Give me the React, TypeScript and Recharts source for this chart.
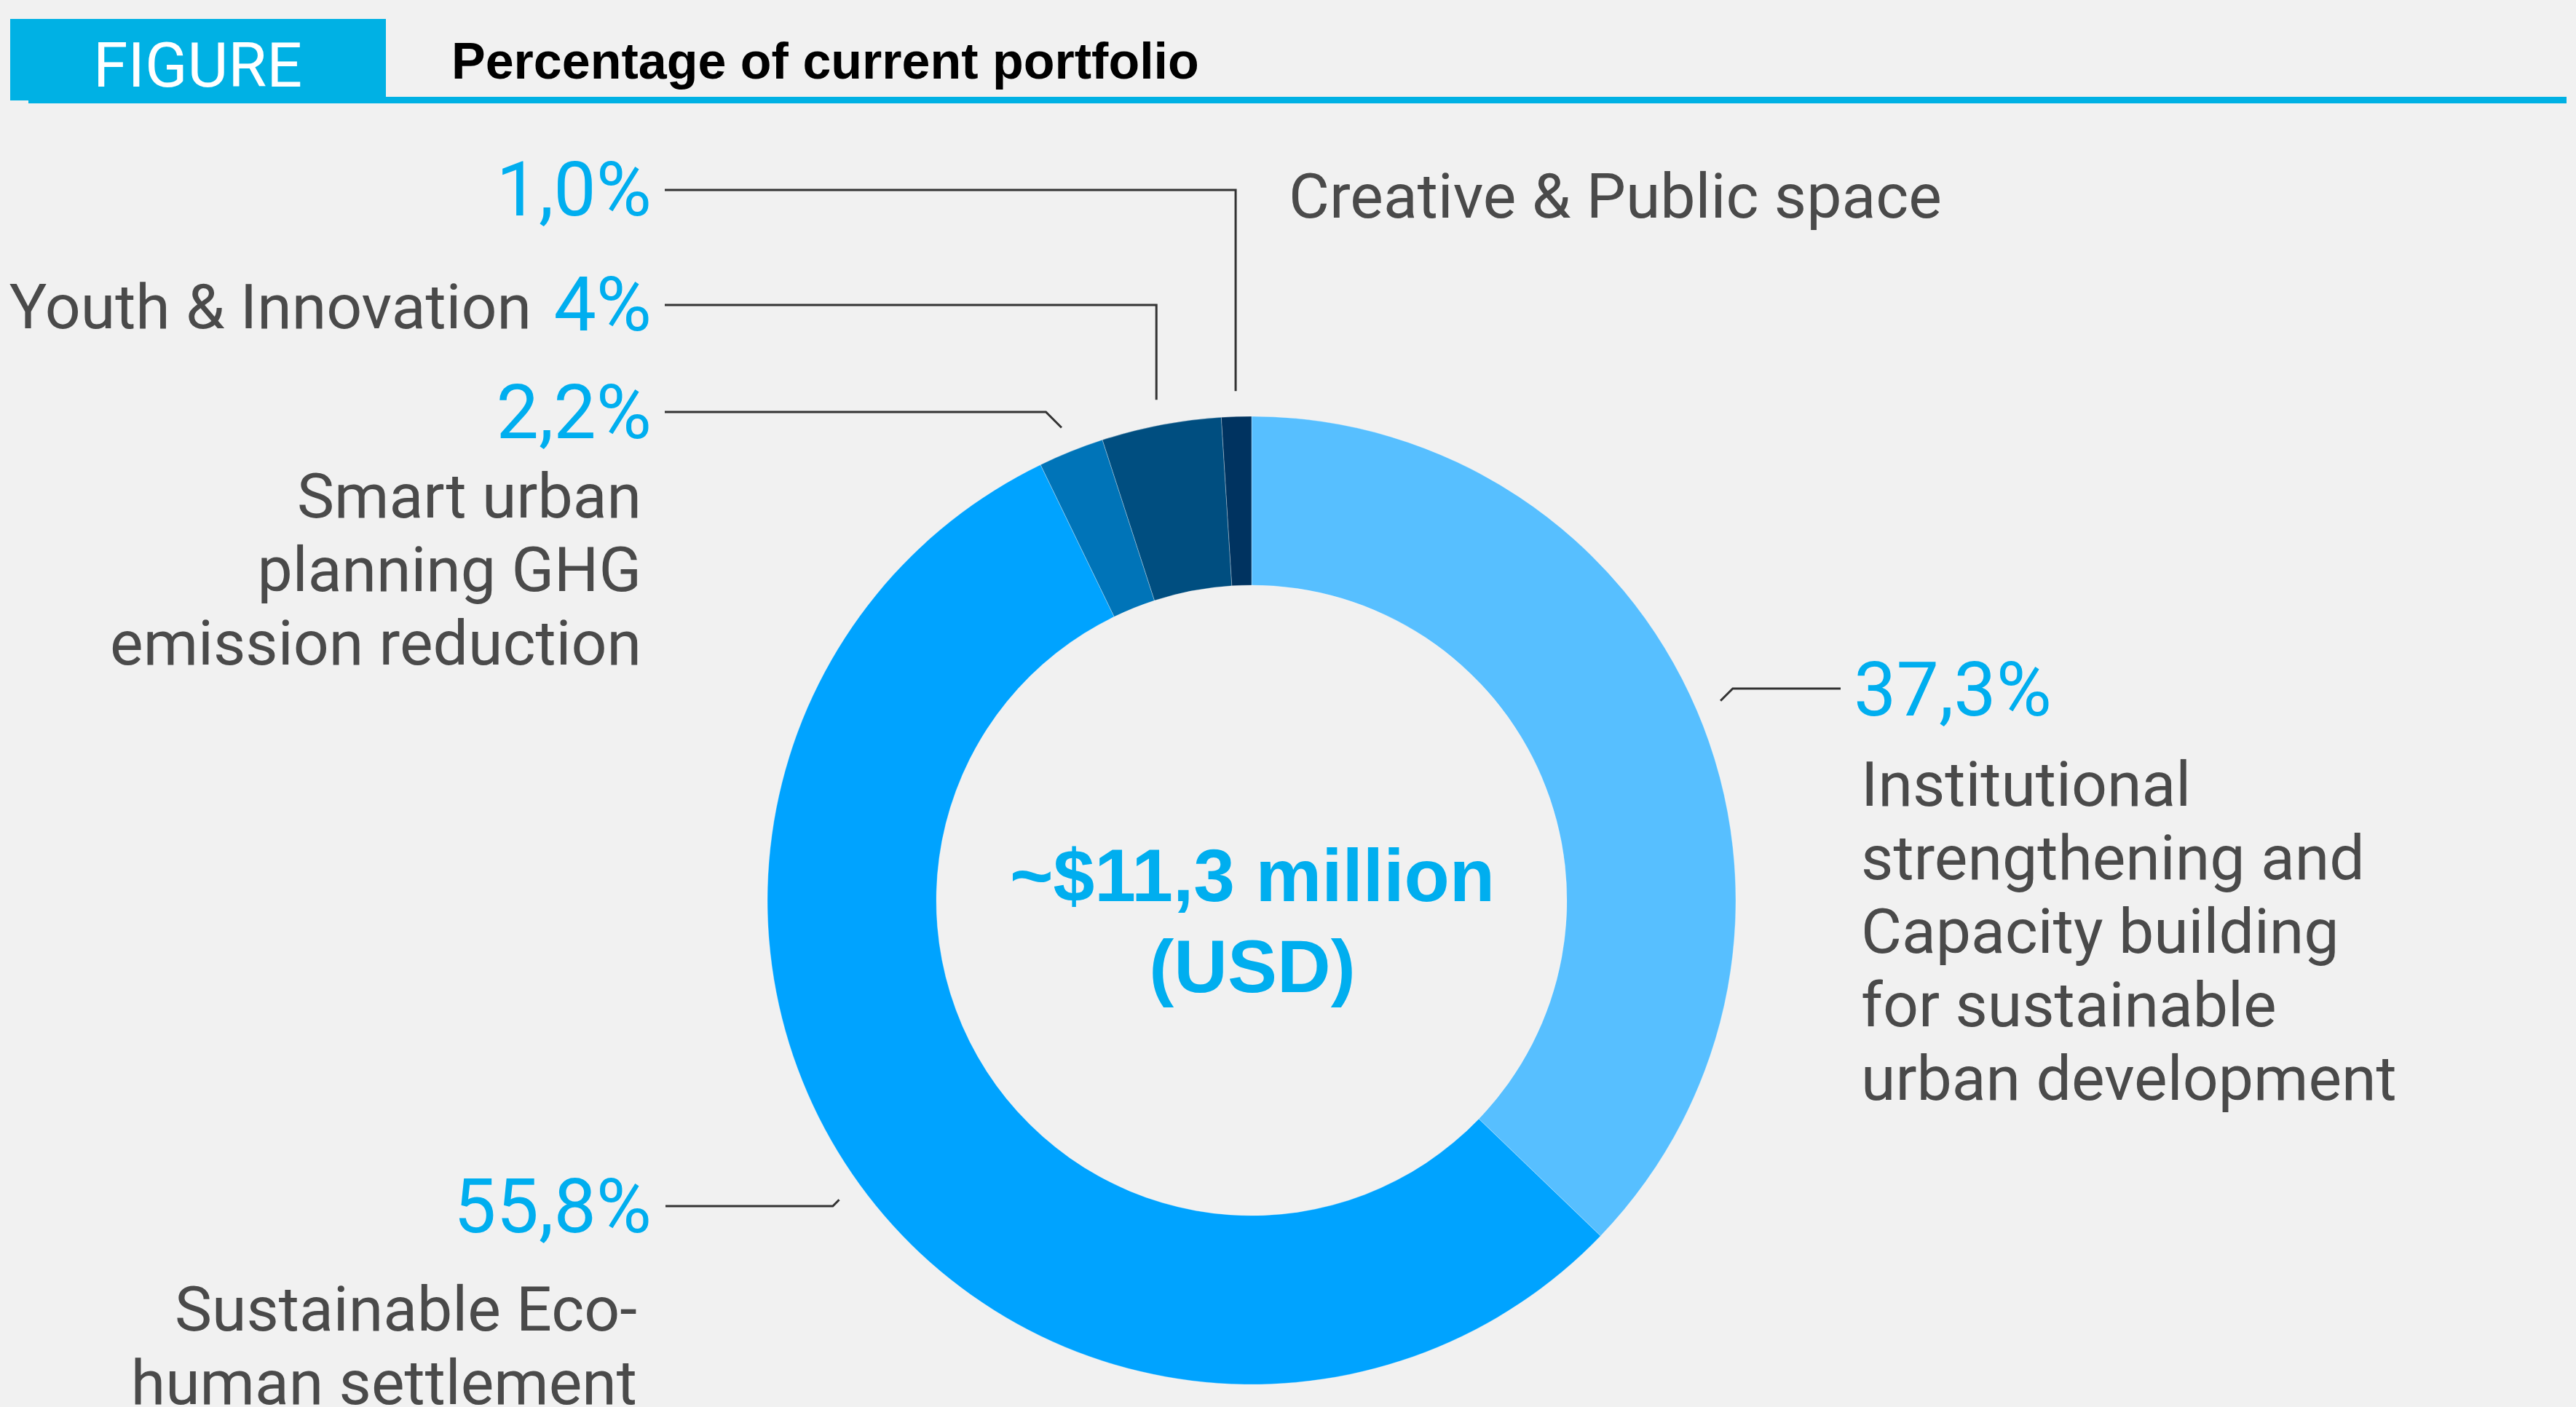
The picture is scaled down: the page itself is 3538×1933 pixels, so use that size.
import React from "react";
import { PieChart, Pie, Cell } from "recharts";

const categories = [
  "Institutional strengthening and Capacity building for sustainable urban development",
  "Sustainable Eco-human settlement",
  "Smart urban planning GHG emission reduction",
  "Youth & Innovation",
  "Creative & Public space",
];
const shares = [37.3, 55.8, 2.2, 4, 1.0];
const shareLabels = ["37,3%", "55,8%", "2,2%", "4%", "1,0%"];
const nameLines = [
  ["Institutional", "strengthening and", "Capacity building", "for sustainable", "urban development"],
  ["Sustainable Eco-", "human settlement"],
  ["Smart urban", "planning GHG", "emission reduction"],
  ["Youth & Innovation"],
  ["Creative & Public space"],
];
const colors = ["#57bfff", "#00a3ff", "#0074b8", "#004e80", "#003360"];

const data = categories.map((name, i) => ({ name, value: shares[i] }));

// where each callout sits on the page
const layout = [
  { kind: "diag", lineY: 946, lineEnd: 2528, pctX: 2546, pctAnchor: "start", pctY: 983, nameX: 2556, nameAnchor: "start", nameY: 1107 },
  { kind: "diag", lineY: 1657, lineEnd: 914, pctX: 895, pctAnchor: "end", pctY: 1693, nameX: 875, nameAnchor: "end", nameY: 1828 },
  { kind: "diag", lineY: 566, lineEnd: 913, pctX: 895, pctAnchor: "end", pctY: 602, nameX: 881, nameAnchor: "end", nameY: 711 },
  { kind: "vert", lineY: 419, lineEnd: 913, pctX: 895, pctAnchor: "end", pctY: 454, nameX: 730, nameAnchor: "end", nameY: 451 },
  { kind: "vert", lineY: 261, lineEnd: 913, pctX: 895, pctAnchor: "end", pctY: 296, nameX: 1770, nameAnchor: "start", nameY: 299 },
];

const BLUE = "#00aeef";
const GRAY = "#4a4a4a";
const RAD = Math.PI / 180;

const renderLabel = (props: any) => {
  const { cx, cy, midAngle, outerRadius, index } = props;
  const r = outerRadius + 35;
  const ex = cx + r * Math.cos(-midAngle * RAD);
  const ey = cy + r * Math.sin(-midAngle * RAD);
  const l = layout[index];
  let bx = ex;
  if (l.kind === "diag") {
    const sign = ex > cx ? 1 : -1;
    bx = ex + sign * Math.abs(ey - l.lineY);
  }
  const pts = `${ex},${ey} ${bx},${l.lineY} ${l.lineEnd},${l.lineY}`;
  return (
    <g key={`lab-${index}`}>
      <polyline points={pts} fill="none" stroke="#333" strokeWidth={3} />
      <text x={l.pctX} y={l.pctY} textAnchor={l.pctAnchor as any} fill={BLUE}
        style={{ fontFamily: "Roboto", fontSize: 104 }}>
        {shareLabels[index]}
      </text>
      {nameLines[index].map((line, j) => (
        <text key={j} x={l.nameX} y={l.nameY + j * 101} textAnchor={l.nameAnchor as any} fill={GRAY}
          style={{ fontFamily: "Roboto", fontSize: 86 }}>
          {line}
        </text>
      ))}
    </g>
  );
};

export default function App() {
  return (
    <div style={{ position: "absolute", left: 0, top: 0, width: 3538, height: 1933, background: "#f1f1f1", overflow: "hidden" }}>
      <div style={{ position: "absolute", left: 0, top: 0 }}>
        <PieChart width={3538} height={1933} margin={{ top: 0, right: 0, bottom: 0, left: 0 }}>
          <Pie
            data={data}
            dataKey="value"
            cx={1719}
            cy={1237}
            innerRadius={433}
            outerRadius={665}
            startAngle={90}
            endAngle={-270}
            stroke="rgba(255,255,255,0.3)"
            strokeWidth={1}
            label={renderLabel}
            labelLine={false}
            isAnimationActive={false}
          >
            {data.map((d, i) => (
              <Cell key={d.name} fill={colors[i]} />
            ))}
          </Pie>
        </PieChart>
      </div>
      <svg width={3538} height={1933} style={{ position: "absolute", left: 0, top: 0, pointerEvents: "none" }}>
        <rect x={14} y={26} width={516} height={112} fill="#00b1e4" />
        <rect x={39} y={133} width={3486} height={9} fill="#00b1e4" />
        <text x={128} y={119} fill="#fff" style={{ fontFamily: "Roboto", fontSize: 86, fontWeight: 400 }}>FIGURE</text>
        <text x={620} y={108} fill="#000" style={{ fontFamily: "Liberation Sans", fontSize: 70, fontWeight: 700 }}>
          Percentage of current portfolio
        </text>
        <text x={1720} y={1238} textAnchor="middle" fill={BLUE}
          style={{ fontFamily: "Liberation Sans", fontSize: 102, fontWeight: 700 }}>
          ~$11,3 million
        </text>
        <text x={1720} y={1363} textAnchor="middle" fill={BLUE}
          style={{ fontFamily: "Liberation Sans", fontSize: 102, fontWeight: 700 }}>
          (USD)
        </text>
      </svg>
    </div>
  );
}
